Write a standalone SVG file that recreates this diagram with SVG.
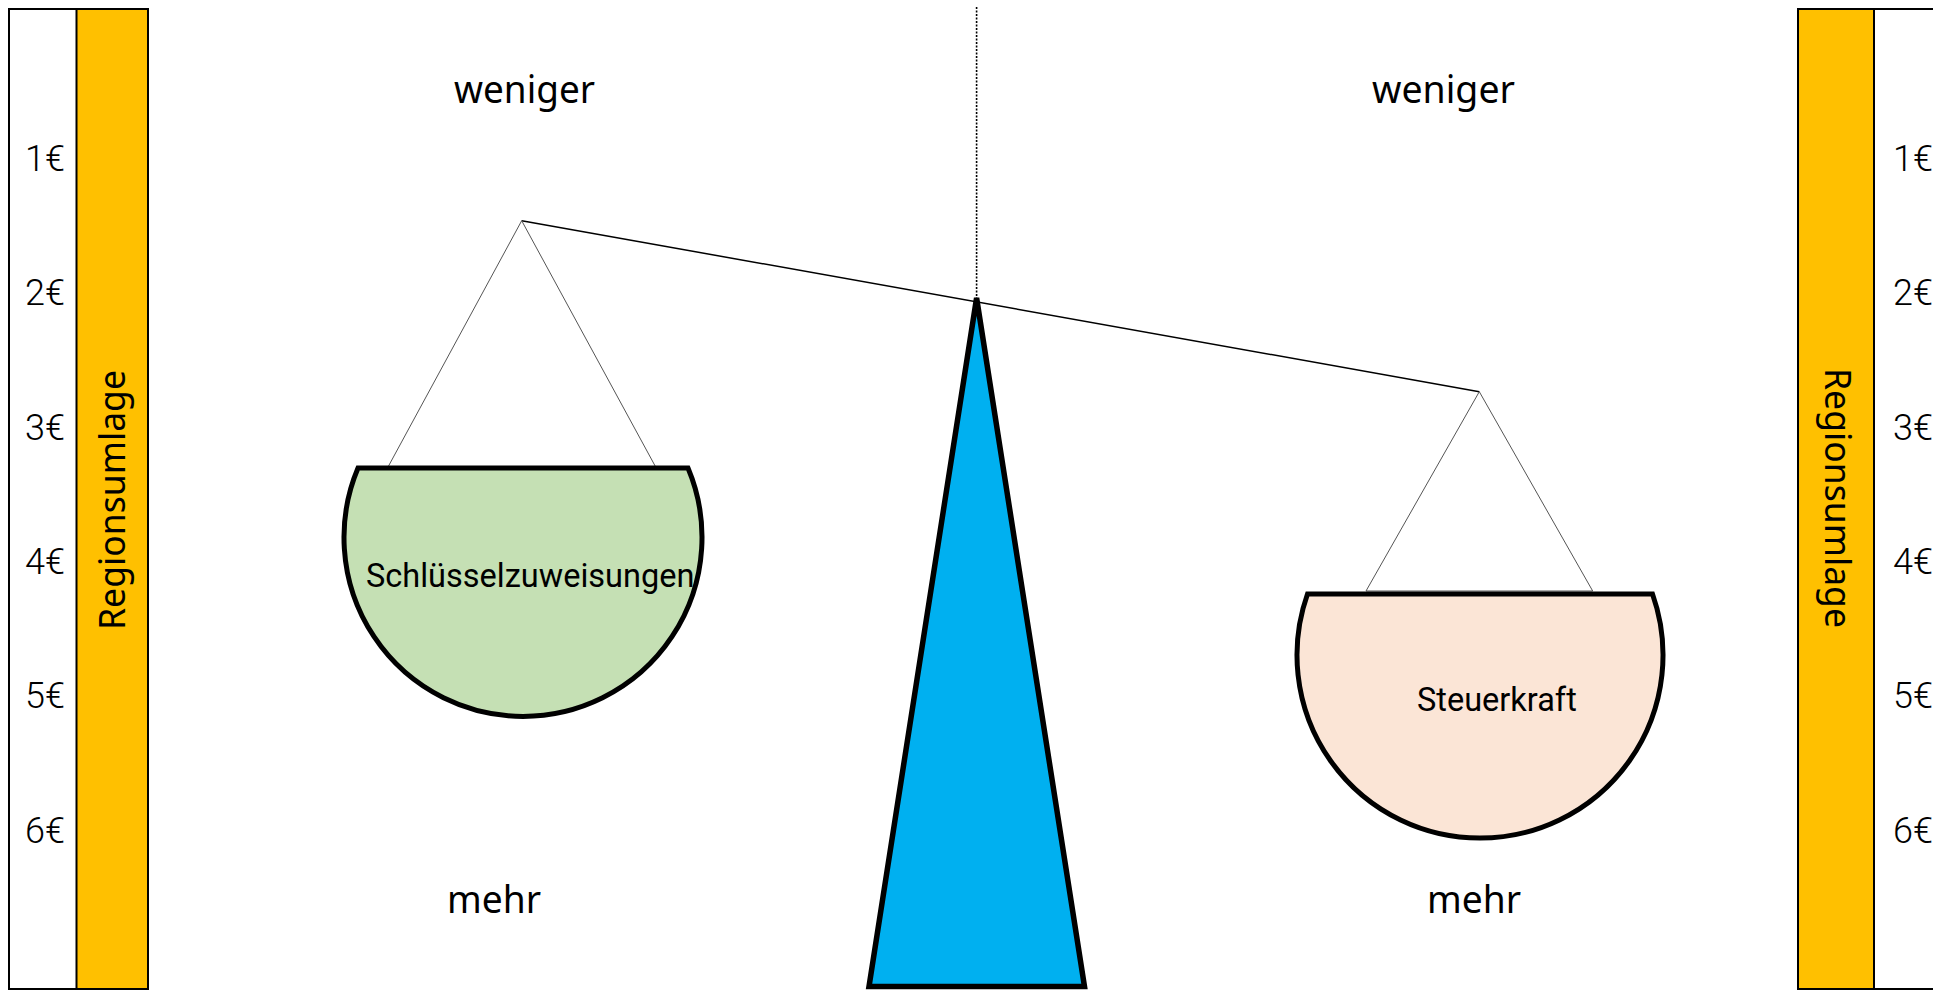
<svg xmlns="http://www.w3.org/2000/svg" width="1933" height="991" viewBox="0 0 1933 991">
<style>
.col{fill:#FFFFFF;stroke:#000;stroke-width:2}
.ylw{fill:#FFC000;stroke:#000;stroke-width:2}
.eur{font-family:Roboto,"Liberation Sans",sans-serif;font-weight:300;font-size:36px;fill:#000}
.vert{font-family:"Noto Sans","Open Sans",sans-serif;font-size:36px;fill:#000;text-anchor:middle}
.lbl{font-family:"Noto Sans","Open Sans",sans-serif;font-size:38px;fill:#000}
.pan{stroke:#000;stroke-width:5}
.pantxt{font-family:Roboto,"Liberation Sans",sans-serif;font-size:32.5px;fill:#000}
.string{fill:none;stroke:#555;stroke-width:1}
</style>
<g id="scale-left">
<rect class="col" x="9" y="9" width="139" height="980"/>
<rect class="ylw" x="76.5" y="9" width="71.5" height="980"/>
<text class="eur" x="25" y="171">1€</text>
<text class="eur" x="25" y="305">2€</text>
<text class="eur" x="25" y="440">3€</text>
<text class="eur" x="25" y="574">4€</text>
<text class="eur" x="25" y="708">5€</text>
<text class="eur" x="25" y="843">6€</text>
<text class="vert" transform="translate(125,500) rotate(-90)" textLength="260" lengthAdjust="spacingAndGlyphs">Regionsumlage</text>
</g>
<g id="scale-right">
<rect class="col" x="1798" y="9" width="150" height="980"/>
<rect class="ylw" x="1798" y="9" width="76" height="980"/>
<text class="eur" x="1893" y="171">1€</text>
<text class="eur" x="1893" y="305">2€</text>
<text class="eur" x="1893" y="440">3€</text>
<text class="eur" x="1893" y="574">4€</text>
<text class="eur" x="1893" y="708">5€</text>
<text class="eur" x="1893" y="843">6€</text>
<text class="vert" transform="translate(1825,498) rotate(90)" textLength="260" lengthAdjust="spacingAndGlyphs">Regionsumlage</text>
</g>
<g id="labels">
<text class="lbl" x="454" y="103" textLength="141" lengthAdjust="spacingAndGlyphs">weniger</text>
<text class="lbl" x="1372" y="103" textLength="143" lengthAdjust="spacingAndGlyphs">weniger</text>
<text class="lbl" x="447" y="913" textLength="94" lengthAdjust="spacingAndGlyphs">mehr</text>
<text class="lbl" x="1427" y="913" textLength="94" lengthAdjust="spacingAndGlyphs">mehr</text>
</g>
<g id="connectors">
<line x1="976.6" y1="7" x2="976.6" y2="300" stroke="#000" stroke-width="1.6" stroke-dasharray="2 1.5"/>
<line x1="521.7" y1="220.7" x2="1479.3" y2="391.7" stroke="#000" stroke-width="1.5"/>
<polyline class="string" points="388,467 521.7,220.7 655.7,467"/>
<polyline class="string" points="1366,591 1479.3,391.7 1592.7,591 1366,591"/>
</g>
<g id="fulcrum">
<polygon points="976.6,298 869,986.5 1084.5,986.5" fill="#00B0F0" stroke="#000" stroke-width="5.5"/>
</g>
<g id="pan-left">
<path class="pan" fill="#C5E0B4" d="M358,468 L688,468 A179,179 0 1 1 358,468 Z"/>
<text class="pantxt" x="366" y="587">Schlüsselzuweisungen</text>
</g>
<g id="pan-right">
<path class="pan" fill="#FBE5D6" d="M1307.5,594 L1652.5,594 A183,183 0 1 1 1307.5,594 Z"/>
<text class="pantxt" x="1417" y="711">Steuerkraft</text>
</g>
</svg>
